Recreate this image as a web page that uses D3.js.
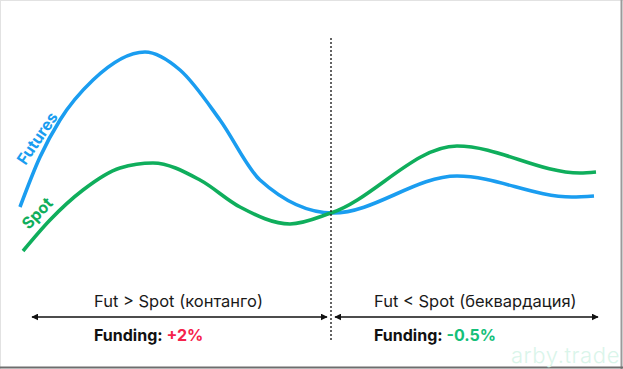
<!DOCTYPE html>
<html>
<head>
<meta charset="utf-8">
<script src="https://cdn.jsdelivr.net/npm/d3@7"></script>
<style>
  html, body { margin: 0; padding: 0; background: #fff; }
  svg { display: block; }
  text { font-family: Inter, "Noto Sans", sans-serif; }
</style>
</head>
<body>
<svg id="chart" width="623" height="369"></svg>
<script>
// ---- data (time index, price level) ----
const futuresX = [20, 40, 60, 93, 145, 180, 220, 260, 333, 457, 572, 594];
const futuresY = [162, 212, 249, 289, 317, 299, 249, 189, 156, 193, 172, 173];
const spotX = [23, 50, 83, 120, 153, 200, 240, 290, 331, 457, 580, 596];
const spotY = [118, 149, 179, 201, 206, 189, 162, 145, 156, 223, 196, 197];
const seriesNames = ["Futures", "Spot"];
const regionLabels = ["Fut > Spot (контанго)", "Fut < Spot (беквардация)"];
const fundingLabel = "Funding:";
const fundingValues = ["+2%", "-0.5%"];
const splitAt = 331;
const watermark = "arby.trade";

const W = 623, H = 369;
const svg = d3.select("#chart");

const x = d3.scaleLinear().domain([0, 623]).range([0, 623]);
const y = d3.scaleLinear().domain([0, 369]).range([369, 0]);

// frame
svg.append("line").attr("x1", 0.5).attr("y1", 0).attr("x2", 0.5).attr("y2", H).attr("stroke", "#e2e2e2");
svg.append("line").attr("x1", 0).attr("y1", 0.5).attr("x2", W).attr("y2", 0.5).attr("stroke", "#e2e2e2");
svg.append("line").attr("x1", W - 1.5).attr("y1", 0).attr("x2", W - 1.5).attr("y2", H).attr("stroke", "#9a9a9a").attr("stroke-width", 2);
svg.append("line").attr("x1", 0).attr("y1", H - 1.5).attr("x2", W).attr("y2", H - 1.5).attr("stroke", "#6e6e6e").attr("stroke-width", 2);

const line = d3.line().x(d => x(d[0])).y(d => y(d[1])).curve(d3.curveMonotoneX);

const futures = futuresX.map((v, i) => [v, futuresY[i]]);
const spot = spotX.map((v, i) => [v, spotY[i]]);

const blue = "#1a9df0";
const green = "#0fae5c";

svg.append("path").datum(futures).attr("d", line)
  .attr("fill", "none").attr("stroke", blue).attr("stroke-width", 3.6).attr("stroke-linecap", "butt");
svg.append("path").datum(spot).attr("d", line)
  .attr("fill", "none").attr("stroke", green).attr("stroke-width", 3.6).attr("stroke-linecap", "butt");

// dotted divider
svg.append("line")
  .attr("x1", x(splitAt)).attr("x2", x(splitAt))
  .attr("y1", 38).attr("y2", 342)
  .attr("stroke", "#222").attr("stroke-width", 1.4).attr("stroke-dasharray", "2,2");

// rotated series labels
svg.append("text").text(seriesNames[0])
  .attr("transform", "translate(37,138) rotate(-56)")
  .attr("text-anchor", "middle").attr("dominant-baseline", "central")
  .attr("font-size", 16).attr("font-weight", 700).attr("fill", blue);
svg.append("text").text(seriesNames[1])
  .attr("transform", "translate(37,213) rotate(-46)")
  .attr("text-anchor", "middle").attr("dominant-baseline", "central")
  .attr("font-size", 16).attr("font-weight", 700).attr("fill", green);

// arrows
const defs = svg.append("defs");
defs.append("marker").attr("id", "ah").attr("viewBox", "0 0 10 10")
  .attr("refX", 9).attr("refY", 5).attr("markerWidth", 7).attr("markerHeight", 7)
  .attr("markerUnits", "userSpaceOnUse").attr("orient", "auto-start-reverse")
  .append("path").attr("d", "M0,0 L10,5 L0,10 z").attr("fill", "#111");

const arrowY = 317;
[[32, 327], [335, 598]].forEach(([a, b]) => {
  svg.append("line").attr("x1", a).attr("x2", b).attr("y1", arrowY).attr("y2", arrowY)
    .attr("stroke", "#111").attr("stroke-width", 1.4)
    .attr("marker-start", "url(#ah)").attr("marker-end", "url(#ah)");
});

// region labels
svg.append("text").text(regionLabels[0]).attr("x", 94).attr("y", 307)
  .attr("font-size", 16.5).attr("fill", "#1a1a1a");
svg.append("text").text(regionLabels[1]).attr("x", 374).attr("y", 307)
  .attr("font-size", 16.5).attr("fill", "#1a1a1a");

// funding
const fundColors = ["#f5234b", "#14c07a"];
[94, 374].forEach((fx, i) => {
  const t = svg.append("text").attr("x", fx).attr("y", 341).attr("font-size", 16).attr("font-weight", 700);
  t.append("tspan").text(fundingLabel + " ").attr("fill", "#111");
  t.append("tspan").text(fundingValues[i]).attr("fill", fundColors[i]);
});

// watermark
svg.append("text").text(watermark).attr("x", 620).attr("y", 363)
  .attr("text-anchor", "end").attr("font-size", 22).attr("font-weight", 300)
  .attr("letter-spacing", 0.6).attr("fill", "#daf5ea");
</script>
</body>
</html>
